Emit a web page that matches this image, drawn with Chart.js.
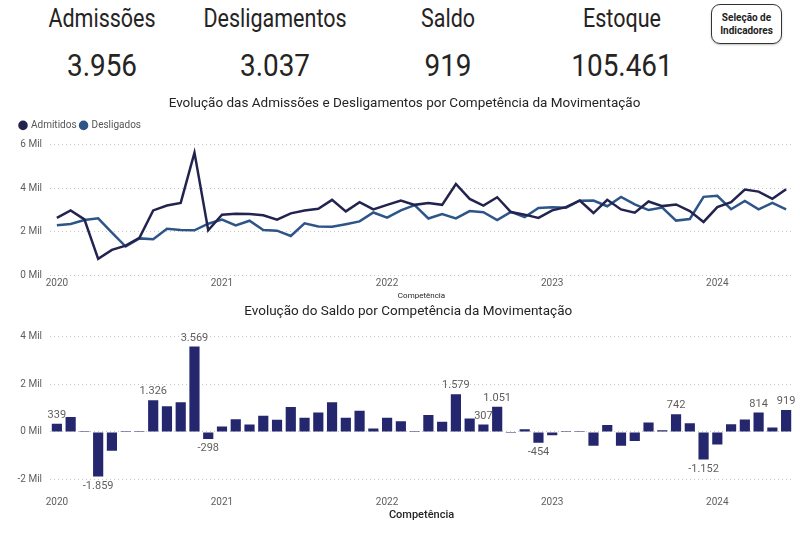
<!DOCTYPE html>
<html>
<head>
<meta charset="utf-8">
<script src="https://cdn.jsdelivr.net/npm/chart.js@4.4.1/dist/chart.umd.min.js"></script>
<style>
  html, body { margin:0; padding:0; background:#fff; width:800px; height:541px; overflow:hidden; }
  body { position:relative; font-family: Roboto, "DejaVu Sans", sans-serif; }
  .kpi { position:absolute; white-space:nowrap; color:#252423; font-family:Roboto,sans-serif; }
  .kpi.lbl { top:4px; font-size:25px; line-height:30px; transform:translateX(-50%) scaleX(0.86); }
  .kpi.val { top:45px; font-size:31px; line-height:42px; transform:translateX(-50%) scaleX(0.9); }
  #btn { position:absolute; left:711px; top:4px; width:69px; height:38px; border:1.5px solid #333;
         border-radius:9px; display:flex; align-items:center; justify-content:center; text-align:center;
         font-family:Roboto,sans-serif; font-weight:bold; font-size:10px; line-height:13px; color:#222;
         box-shadow:0 1px 2px rgba(0,0,0,0.25); }
  canvas { position:absolute; left:0; }
  #c1 { top:90px; }
  #c2 { top:300px; }
</style>
</head>
<body>
<div class="kpi lbl" style="left:102px">Admissões</div>
<div class="kpi lbl" style="left:275px">Desligamentos</div>
<div class="kpi lbl" style="left:448px">Saldo</div>
<div class="kpi lbl" style="left:622px">Estoque</div>
<div class="kpi val" id="v1" style="left:102px"></div>
<div class="kpi val" id="v2" style="left:275px"></div>
<div class="kpi val" id="v3" style="left:448px"></div>
<div class="kpi val" id="v4" style="left:622px"></div>
<div id="btn">Seleção de<br>Indicadores</div>
<canvas id="c1" width="800" height="213"></canvas>
<canvas id="c2" width="800" height="224"></canvas>
<script>
// ---------- data ----------
const months = [
  '2020-01','2020-02','2020-03','2020-04','2020-05','2020-06','2020-07','2020-08','2020-09','2020-10','2020-11','2020-12',
  '2021-01','2021-02','2021-03','2021-04','2021-05','2021-06','2021-07','2021-08','2021-09','2021-10','2021-11','2021-12',
  '2022-01','2022-02','2022-03','2022-04','2022-05','2022-06','2022-07','2022-08','2022-09','2022-10','2022-11','2022-12',
  '2023-01','2023-02','2023-03','2023-04','2023-05','2023-06','2023-07','2023-08','2023-09','2023-10','2023-11','2023-12',
  '2024-01','2024-02','2024-03','2024-04','2024-05','2024-06'
];
const yearLabels = ['2020','2021','2022','2023','2024'];

const admitidos = [
  2640, 2985, 2575,  760, 1170, 1365, 1730, 2985, 3210, 3330, 5640, 2075,
  2790, 2830, 2820, 2760, 2560, 2850, 2985, 3060, 3470, 2940, 3365, 3030,
  3240, 3440, 3240, 3320, 3240, 4200, 3515, 3210, 3590, 2910, 2790, 2640,
  2985, 3136, 3440, 2864, 3470, 3030, 2879, 3394, 3182, 3258, 2955, 2455,
  3136, 3364, 3940, 3848, 3515, 3956
];
const desligados = [
  2301, 2365, 2545, 2619, 1960, 1325, 1700, 1659, 2140, 2090, 2071, 2373,
  2565, 2295, 2510, 2085, 2053, 1810, 2395, 2244, 2230, 2350, 2479, 2890,
  2650, 2990, 3225, 2615, 2818, 2621, 2952, 2903, 2539, 2920, 2680, 3094,
  3125, 3106, 3430, 3441, 3175, 3607, 3259, 3000, 3112, 2516, 2589, 3607,
  3656, 3040, 3420, 3034, 3332, 3037
];
const saldo = [
   339,  620,   30, -1859, -790,   40,   30, 1326, 1070, 1240, 3569, -298,
   225,  535,  310,  675,  507, 1040,  590,  816, 1240,  590,  886,  140,
   590,  450,   15,  705,  422, 1579,  563,  307, 1051,  -10,  110, -454,
  -140,   30,   10, -577,  295, -577, -380,  394,   70,  742,  366, -1152,
  -520,  324,  520,  814,  183,  919
];
const estoque = 105461;
const labeledMonths = ['2020-01','2020-04','2020-08','2020-11','2020-12','2022-06','2022-08','2022-09','2022-12','2023-10','2023-12','2024-04','2024-06'];

const lineTickValues = [0, 2000, 4000, 6000];
const lineTickLabels = ['0 Mil', '2 Mil', '4 Mil', '6 Mil'];
const saldoTickValues = [-2000, 0, 2000, 4000];
const saldoTickLabels = ['-2 Mil', '0 Mil', '2 Mil', '4 Mil'];

// ---------- helpers ----------
function fmt(v) {
  const s = Math.abs(Math.round(v)).toString().replace(/\B(?=(\d{3})+(?!\d))/g, '.');
  return (v < 0 ? '-' : '') + s;
}
const last = months.length - 1;
document.getElementById('v1').textContent = fmt(admitidos[last]);
document.getElementById('v2').textContent = fmt(desligados[last]);
document.getElementById('v3').textContent = fmt(saldo[last]);
document.getElementById('v4').textContent = fmt(estoque);

const FONT = 'Roboto';
const TICK_COLOR = '#605E5C';
const xTickCb = (v, i) => months[i].endsWith('-01') ? yearLabels[Math.floor(i / 12)] : '';

function yScale(min, max, tickVals, tickLabs, width) {
  return {
    min, max,
    afterBuildTicks: s => { s.ticks = tickVals.map(v => ({ value: v })); },
    afterFit: s => { s.width = width; },
    grid: { color: '#C8C8C8', lineWidth: 1, drawTicks: false },
    border: { display: false, dash: [1, 3] },
    ticks: { font: { family: FONT, size: 10 }, color: TICK_COLOR, padding: 8,
             callback: v => tickLabs[tickVals.indexOf(v)] }
  };
}

// ---------- line chart ----------
new Chart(document.getElementById('c1'), {
  type: 'line',
  data: {
    labels: months,
    datasets: [
      { label: 'Admitidos', data: admitidos, borderColor: '#22244F', backgroundColor: '#22244F',
        borderWidth: 2.5, pointRadius: 0, tension: 0 },
      { label: 'Desligados', data: desligados, borderColor: '#2D5588', backgroundColor: '#2D5588',
        borderWidth: 2.5, pointRadius: 0, tension: 0 }
    ]
  },
  options: {
    responsive: false, animation: false,
    layout: { padding: { left: 16, right: 7, top: 0, bottom: 2 } },
    plugins: {
      title: { display: true, text: 'Evolução das Admissões e Desligamentos por Competência da Movimentação',
               font: { family: FONT, size: 13.5, weight: 'normal' }, color: '#252423', padding: { top: 6, bottom: 4.2 } },
      legend: { display: true, position: 'top', align: 'start',
                labels: { usePointStyle: true, pointStyle: 'circle', boxWidth: 6, boxHeight: 5, padding: 4,
                          font: { family: FONT, size: 10 }, color: '#555' } },
      tooltip: { enabled: false }
    },
    scales: {
      x: {
        offset: true,
        grid: { display: false, drawTicks: false },
        border: { display: false },
        ticks: { autoSkip: false, maxRotation: 0, font: { family: FONT, size: 10 }, color: TICK_COLOR, padding: 2, callback: xTickCb },
        title: { display: true, text: 'Competência', font: { family: FONT, size: 8 }, color: '#252423', padding: { top: 0, bottom: 0 } }
      },
      y: yScale(0, 6200, lineTickValues, lineTickLabels, 34)
    }
  }
});

// ---------- bar chart ----------
const saldoLabels = {
  id: 'saldoLabels',
  afterDatasetsDraw(chart) {
    const meta = chart.getDatasetMeta(0);
    const ctx = chart.ctx;
    ctx.save();
    ctx.font = '11px ' + FONT;
    ctx.fillStyle = TICK_COLOR;
    ctx.textAlign = 'center';
    labeledMonths.forEach(m => {
      const i = months.indexOf(m);
      const bar = meta.data[i];
      const v = saldo[i];
      if (v >= 0) { ctx.textBaseline = 'bottom'; ctx.fillText(fmt(v), bar.x, bar.y - 3); }
      else { ctx.textBaseline = 'top'; ctx.fillText(fmt(v), bar.x, bar.y + 4); }
    });
    ctx.restore();
  }
};

new Chart(document.getElementById('c2'), {
  type: 'bar',
  data: {
    labels: months,
    datasets: [{ label: 'Saldo', data: saldo, backgroundColor: '#24276E', borderWidth: 0,
                 barPercentage: 0.74, categoryPercentage: 1.0, minBarLength: 1 }]
  },
  options: {
    responsive: false, animation: false,
    layout: { padding: { left: 0, right: 7, top: 0, bottom: 2 } },
    plugins: {
      title: { display: true, text: '\u00A0\u00A0\u00A0\u00A0\u00A0\u00A0\u00A0Evolução do Saldo por Competência da Movimentação',
               font: { family: FONT, size: 13.5, weight: 'normal' }, color: '#252423', padding: { top: 4, bottom: 16 } },
      legend: { display: false },
      tooltip: { enabled: false }
    },
    scales: {
      x: {
        offset: true,
        grid: { display: false, drawTicks: false },
        border: { display: false },
        ticks: { autoSkip: false, maxRotation: 0, font: { family: FONT, size: 10 }, color: TICK_COLOR, padding: 5, callback: xTickCb },
        title: { display: true, text: 'Competência', font: { family: FONT, size: 11, weight: '500' }, color: '#252423', padding: { top: -5, bottom: 0 } }
      },
      y: yScale(-2500, 4000, saldoTickValues, saldoTickLabels, 50)
    }
  },
  plugins: [saldoLabels]
});
</script>
</body>
</html>
